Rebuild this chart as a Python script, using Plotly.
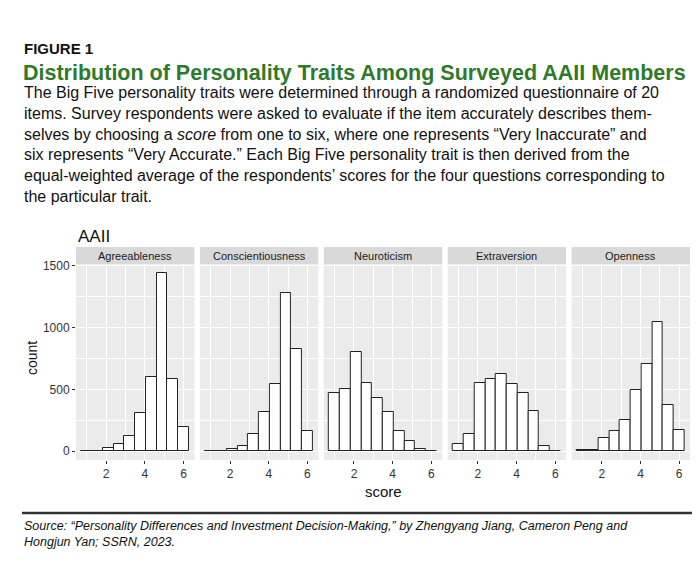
import plotly.graph_objects as go
from plotly.subplots import make_subplots

traits = ["Agreeableness", "Conscientiousness", "Neuroticism", "Extraversion", "Openness"]
bin_centers = [1.0, 1.556, 2.111, 2.667, 3.222, 3.778, 4.333, 4.889, 5.444, 6.0]
agreeableness = [0, 5, 22, 54, 121, 309, 602, 1444, 586, 199]
conscientiousness = [0, 5, 16, 40, 140, 320, 540, 1280, 831, 164]
neuroticism = [468, 500, 806, 554, 427, 315, 159, 81, 16, 5]
extraversion = [59, 140, 548, 586, 621, 543, 468, 323, 38, 3]
openness = [11, 11, 105, 161, 255, 495, 704, 1046, 374, 175]
series = [agreeableness, conscientiousness, neuroticism, extraversion, openness]

W, H = 700, 562
L, R, T, B = 68, 18, 256, 110
fig = make_subplots(rows=1, cols=5, shared_yaxes=True, horizontal_spacing=0.009)
for i, vals in enumerate(series):
    fig.add_trace(go.Bar(x=bin_centers, y=vals, width=0.556,
                         marker=dict(color="white", line=dict(color="#222", width=1)),
                         showlegend=False), row=1, col=i + 1)

font = "Liberation Sans, Arial, sans-serif"
fig.update_xaxes(range=[0.44, 6.56], tickvals=[2, 4, 6], showgrid=True, gridcolor="white",
                 gridwidth=1.2, minor=dict(tickvals=[1, 3, 5], showgrid=True, gridcolor="white", gridwidth=0.5),
                 ticks="outside", ticklen=3, tickcolor="#333", tickfont=dict(size=12, color="#333"),
                 zeroline=False, automargin=False)
fig.update_yaxes(range=[-72, 1516], tickvals=[0, 500, 1000, 1500], showgrid=True, gridcolor="white",
                 gridwidth=1.2, minor=dict(tickvals=[250, 750, 1250], showgrid=True, gridcolor="white", gridwidth=0.5),
                 zeroline=False, tickfont=dict(size=12, color="#333"), automargin=False)
fig.update_yaxes(ticks="outside", ticklen=3, tickcolor="#333", row=1, col=1)

def py(p):
    return (H - B - p) / (H - T - B)

def px(p):
    return (p - L) / (W - L - R)

ann = []
shapes = []
for i, t in enumerate(traits):
    dom = fig.layout[f"xaxis{'' if i == 0 else i + 1}"].domain
    shapes.append(dict(type="rect", xref="paper", yref="paper", x0=dom[0], x1=dom[1],
                       y0=py(256), y1=py(239), fillcolor="#D9D9D9", line=dict(width=0)))
    ann.append(dict(text=t, x=(dom[0] + dom[1]) / 2, y=py(248), xref="paper", yref="paper",
                    xanchor="center", yanchor="middle",
                    showarrow=False, font=dict(size=11, color="#1a1a1a")))
shapes.append(dict(type="line", xref="paper", yref="paper", x0=px(14), x1=px(686),
                   y0=py(505), y1=py(505), line=dict(color="#333", width=2.5)))

ann += [
    dict(text="<b>FIGURE 1</b>", x=px(14), y=py(40), font=dict(size=15, color="#111")),
    dict(text="<b>Distribution of Personality Traits Among Surveyed AAII Members</b>", x=px(13), y=py(65),
         font=dict(size=21.5, color="#2e7a2a")),
    dict(text="The Big Five personality traits were determined through a randomized questionnaire of 20<br>"
              "items. Survey respondents were asked to evaluate if the item accurately describes them-<br>"
              "selves by choosing a <i>score</i> from one to six, where one represents \u201cVery Inaccurate\u201d and<br>"
              "six represents \u201cVery Accurate.\u201d Each Big Five personality trait is then derived from the<br>"
              "equal-weighted average of the respondents\u2019 scores for the four questions corresponding to<br>"
              "the particular trait.",
         x=px(14), y=py(136), font=dict(size=16, color="#111"), align="left"),
    dict(text="AAII", x=px(68), y=py(228), font=dict(size=17, color="#111")),
    dict(text="count", x=px(24), y=py(350), textangle=-90, font=dict(size=14, color="#111"), xanchor="center"),
    dict(text="score", x=px(375), y=py(483), font=dict(size=15, color="#111"), xanchor="center"),
    dict(text="<i>Source: \u201cPersonality Differences and Investment Decision-Making,\u201d by Zhengyang Jiang, Cameron Peng and<br>"
              "Hongjun Yan; SSRN, 2023.</i>", x=px(14), y=py(526), font=dict(size=12.5, color="#111"), align="left"),
]
for a in ann[len(traits):]:
    a.setdefault("xanchor", "left")
    a.update(xref="paper", yref="paper", showarrow=False, yanchor="middle")

fig.update_layout(width=W, height=H, margin=dict(l=L, r=R, t=T, b=B, autoexpand=False), plot_bgcolor="#EBEBEB",
                  paper_bgcolor="white", font=dict(family=font), bargap=0,
                  annotations=ann, shapes=shapes)
fig.write_html("out.html")
